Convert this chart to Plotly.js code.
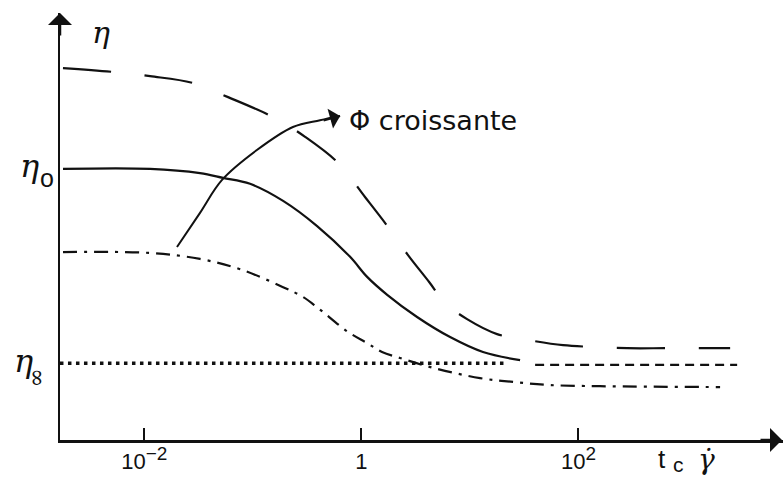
<!DOCTYPE html>
<html>
<head>
<meta charset="utf-8">
<script src="https://cdn.plot.ly/plotly-3.0.1.min.js"></script>
<style>html,body{margin:0;padding:0;background:#fff;}</style>
</head>
<body>
<div id="chart" style="width:783px;height:477px;"></div>
<script>
// Reduced shear rate t_c * gamma-dot (log scale) and viscosity eta (arbitrary units)
const highX = [0.00178,0.00515,0.0113,0.0281,0.0591,0.160,0.303,0.610,1.08,1.76,2.69,4.21,5.91,9.42,17.8,34.4,72.2,136,281,630,1190,2500];
const highY = [8.71,8.62,8.52,8.36,8.03,7.54,7.10,6.49,5.69,4.99,4.33,3.70,3.21,2.83,2.48,2.34,2.22,2.18,2.15,2.15,2.15,2.15];

const midX = [0.00178,0.0113,0.0326,0.0531,0.0942,0.190,0.391,0.787,1.13,1.73,3.26,6.57,13.2,29.0];
const midY = [6.35,6.35,6.25,6.14,6.00,5.60,5.01,4.29,3.82,3.40,2.88,2.41,2.06,1.87];

const lowX = [0.00178,0.0113,0.0326,0.0762,0.190,0.290,0.399,0.754,1.13,1.55,2.27,4.58,12.4,25.0,51.4,158,2020];
const lowY = [4.40,4.38,4.24,4.00,3.58,3.35,3.09,2.53,2.27,2.06,1.92,1.69,1.45,1.36,1.29,1.26,1.24];

const etaInfX = [0.00167,22.0];
const etaInfY = [1.80,1.80];

const midTailX = [39.9,2900];
const midTailY = [1.76,1.76];

// "Phi croissante" arrow path
const arrowX = [0.0200,0.0326,0.0520,0.109,0.234,0.416,0.637];
const arrowY = [4.52,5.32,6.09,6.79,7.33,7.49,7.59];

const tickVals = [0.01,1,100];
const tickText = ['10<sup><span style="font-size:19px">−2</span></sup>','1','10<sup><span style="font-size:19px">2</span></sup>'];

const etaTop = 9.55, eta0 = 6.35, etaInf = 1.80;

const black = '#111';
function line(x,y,dash,w,shape){
  return {x:x,y:y,type:'scatter',mode:'lines',hoverinfo:'skip',
    line:{color:black,width:w,dash:dash,shape:shape||'spline',smoothing:1}};
}
const traces = [
  line(highX,highY,'48px,34px',2.2),
  line(midX,midY,'solid',2.2),
  line(lowX,lowY,'14px,7px,3px,7px',2.2),
  line(etaInfX,etaInfY,'3.5px,4.5px',3.5,'linear'),
  line(midTailX,midTailY,'9px,6px',2.2,'linear'),
  line(arrowX,arrowY,'solid',2,'spline')
];

const serif = 'DejaVu Serif, Liberation Serif, serif';
const sans = 'Liberation Sans, Arial, sans-serif';
function lab(text,xs,y,ys,font,extra){
  return Object.assign({xref:'paper',yref:'y',x:0,y:y,xshift:xs,yshift:ys,showarrow:false,
    xanchor:'center',yanchor:'middle',text:text,font:font},extra||{});
}
function xlab(text,px,ys,font){
  return {xref:'paper',yref:'paper',x:(px-60)/723,y:0,xanchor:'center',yanchor:'middle',
    yshift:ys,showarrow:false,text:text,font:font};
}
const layout = {
  width:783, height:477,
  margin:{l:60,r:0,t:13,b:37,pad:0},
  paper_bgcolor:'#fff', plot_bgcolor:'#fff',
  showlegend:false, hovermode:false,
  xaxis:{type:'log',range:[-2.777,3.885],showgrid:false,zeroline:false,
    showline:true,linecolor:black,linewidth:2.5,
    ticks:'inside',ticklen:12,tickwidth:2,tickcolor:black,
    tickvals:tickVals,ticktext:tickText,
    tickfont:{family:sans,size:22,color:black},ticklabelstandoff:0},
  yaxis:{range:[0,10],showgrid:false,zeroline:false,showline:true,
    linecolor:black,linewidth:2.5,ticks:'',showticklabels:false},
  annotations:[
    // axis arrowheads
    {xref:'paper',yref:'paper',x:0,y:1,ax:0,ay:24,
     showarrow:true,arrowhead:1,arrowsize:1.6,arrowwidth:2.5,arrowcolor:black,text:''},
    {xref:'paper',yref:'paper',x:1,y:0,ax:-24,ay:0,
     showarrow:true,arrowhead:1,arrowsize:1.6,arrowwidth:2.5,arrowcolor:black,text:''},
    // curve arrow head
    {xref:'x',yref:'y',x:Math.log10(arrowX[arrowX.length-1]),y:arrowY[arrowY.length-1],ax:-18,ay:5,
     showarrow:true,arrowhead:1,arrowsize:1.7,arrowwidth:2,arrowcolor:black,text:''},
    {xref:'x',yref:'y',x:Math.log10(0.738),y:7.49,xanchor:'left',yanchor:'middle',showarrow:false,
     text:'Φ croissante',font:{family:'DejaVu Sans, sans-serif',size:27,color:black}},
    // eta labels
    lab('<i>η</i>',41,etaTop,0,{family:serif,size:30,color:black}),
    lab('<i>η</i>',-31,eta0,3,{family:serif,size:32,color:black}),
    lab('o',-13,eta0,-9,{family:sans,size:25,color:black}),
    lab('<i>η</i>',-37,etaInf,2,{family:serif,size:32,color:black}),
    lab('∞',-22,etaInf,-14,{family:serif,size:23,color:black},{textangle:90}),
    // x title
    xlab('t',662,-19,{family:sans,size:26,color:black}),
    xlab('c',678,-24,{family:sans,size:21,color:black}),
    xlab('<i>γ̇</i>',706,-19,{family:serif,size:28,color:black})
  ]
};
Plotly.newPlot('chart',traces,layout,{staticPlot:true,displayModeBar:false});
</script>
</body>
</html>
